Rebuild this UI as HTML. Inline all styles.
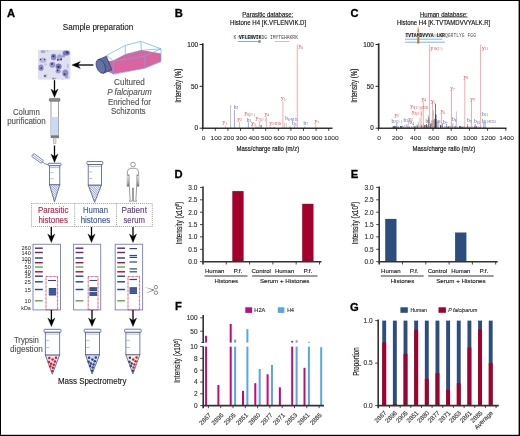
<!DOCTYPE html>
<html><head><meta charset="utf-8"><style>
html,body{margin:0;padding:0;background:#fff;}
svg{display:block;will-change:transform;}
svg{font-family:"Liberation Sans", sans-serif;}
</style></head><body>
<svg width="520" height="436" viewBox="0 0 520 436">
<rect x="0" y="0" width="520" height="436" fill="#fff"/>
<text x="7" y="16.9" font-size="11.2" fill="#000" font-weight="bold" stroke="#000" stroke-width="0.3">A</text><text x="62.8" y="29.7" font-size="8.7" fill="#222" stroke="#222" stroke-width="0.14" textLength="70.4" lengthAdjust="spacingAndGlyphs">Sample preparation</text><rect x="37.9" y="49.9" width="32.6" height="29.7" fill="#dfe1f0"/><clipPath id="mic"><rect x="37.9" y="49.9" width="32.6" height="29.7"/></clipPath><g clip-path="url(#mic)"><g><ellipse cx="43.0" cy="51.6" rx="2.6" ry="1.6" fill="#8c8cc8" fill-opacity="0.64"/><ellipse cx="47.5" cy="51.0" rx="1.2" ry="0.8" fill="#a0a0d4" fill-opacity="0.56"/><ellipse cx="53.6" cy="57.0" rx="2.7" ry="3.2" fill="#6a68b4" fill-opacity="0.76"/><ellipse cx="59.6" cy="57.6" rx="2.6" ry="3.3" fill="#8a88c4" fill-opacity="0.68"/><ellipse cx="66.2" cy="53.0" rx="3.6" ry="2.6" fill="#5856a4" fill-opacity="0.76"/><ellipse cx="63.5" cy="56.2" rx="1.6" ry="1.4" fill="#7a78bc" fill-opacity="0.64"/><ellipse cx="42.8" cy="60.2" rx="3.6" ry="2.6" fill="#a4a4d4" fill-opacity="0.68"/><ellipse cx="52.4" cy="64.8" rx="3.0" ry="3.0" fill="#7a78c0" fill-opacity="0.72"/><ellipse cx="58.6" cy="66.4" rx="3.0" ry="2.9" fill="#5e5caa" fill-opacity="0.76"/><ellipse cx="41.0" cy="67.8" rx="2.6" ry="3.2" fill="#6e6cb4" fill-opacity="0.72"/><ellipse cx="58.2" cy="71.2" rx="2.6" ry="2.2" fill="#7c7abe" fill-opacity="0.68"/><ellipse cx="65.4" cy="73.0" rx="3.0" ry="3.6" fill="#6c6ab2" fill-opacity="0.72"/><ellipse cx="66.8" cy="77.2" rx="1.8" ry="1.4" fill="#8a88c4" fill-opacity="0.64"/><ellipse cx="45.4" cy="75.8" rx="2.0" ry="2.0" fill="#b4b4dc" fill-opacity="0.56"/><ellipse cx="54.2" cy="78.6" rx="2.2" ry="1.2" fill="#9a98cc" fill-opacity="0.64"/><ellipse cx="67.8" cy="66.0" rx="1.2" ry="2.6" fill="#b0b0dc" fill-opacity="0.64"/><ellipse cx="45.6" cy="64.5" rx="1.6" ry="1.2" fill="#b8b8e0" fill-opacity="0.56"/><circle cx="53.4" cy="56.2" r="1.0" fill="#2d2b6a"/><circle cx="57.8" cy="59.8" r="0.9" fill="#262262"/><circle cx="61.2" cy="59.4" r="0.9" fill="#222060"/><circle cx="67.2" cy="52.4" r="1.2" fill="#3a3878"/><circle cx="40.6" cy="59.4" r="0.75" fill="#5a3038"/><circle cx="44.6" cy="59.4" r="0.75" fill="#5a3038"/><circle cx="52.0" cy="64.0" r="0.9" fill="#3a2a5a"/><circle cx="58.4" cy="66.8" r="1.1" fill="#2d2b6a"/><circle cx="57.6" cy="70.4" r="0.9" fill="#2d2b6a"/><circle cx="64.6" cy="74.2" r="1.0" fill="#3a3878"/><circle cx="45.0" cy="75.9" r="0.95" fill="#6a3a2a"/><circle cx="41.4" cy="68.2" r="0.9" fill="#3a3878"/><circle cx="53.2" cy="78.9" r="0.7" fill="#4a3a5a"/><circle cx="62.8" cy="80.0" r="0.6" fill="#3a3878"/></g></g><line x1="93.4" y1="65.0" x2="76.8" y2="65.0" stroke="#000" stroke-width="1.3"/><path d="M71.8,65.0 L80.39999999999999,61.4 L77.99999999999999,65.0 L80.39999999999999,68.6 Z" fill="#000" stroke="#000" stroke-width="0.3" stroke-linejoin="round"/><path d="M106.8,61.5 L113.2,60.4 L125.3,54.2 L141.4,50.1 L161,53.6 L161,61.6 L144.8,68.3 L113.2,74.0 L107.5,71.5 Z" fill="#da64a0"/><g fill="none" stroke="#6aaee8" stroke-width="0.7" stroke-linejoin="round"><path d="M106.4,55.5 L125.3,45.4 L140.8,41.4 L161,48.8 L161,61.6 L144.8,68.3 L113.2,74.3 L109.8,71"/><path d="M106.4,55.5 L111.5,59.2 L113.2,61.2 L113.2,74.3"/><path d="M125.3,45.4 L125.3,54.6"/><path d="M140.8,41.4 L141.4,50.4"/><path d="M125.3,54.6 L141.4,50.4 L161,48.8"/><path d="M113.2,61.2 L144.8,56.2 L161,48.8"/><path d="M144.8,56.2 L144.8,68.3"/></g><g transform="rotate(-22 104 65)"><rect x="100.5" y="57.8" width="9" height="14.6" fill="#5d6a9e" stroke="#27306a" stroke-width="0.6"/><ellipse cx="100.5" cy="65.1" rx="4.2" ry="7.3" fill="#6572a8" stroke="#27306a" stroke-width="0.6"/></g><text x="129.4" y="84.5" font-size="8.7" fill="#555" stroke="#555" stroke-width="0.14" text-anchor="middle" textLength="30.7" lengthAdjust="spacingAndGlyphs">Cultured</text><text x="129.4" y="94.5" font-size="8.7" fill="#555" stroke="#555" stroke-width="0.14" text-anchor="middle" font-style="italic" textLength="44.5" lengthAdjust="spacingAndGlyphs">P falciparum</text><text x="129.4" y="104.5" font-size="8.7" fill="#555" stroke="#555" stroke-width="0.14" text-anchor="middle" textLength="42.9" lengthAdjust="spacingAndGlyphs">Enriched for</text><text x="128.3" y="114.4" font-size="8.7" fill="#555" stroke="#555" stroke-width="0.14" text-anchor="middle" textLength="34.6" lengthAdjust="spacingAndGlyphs">Schizonts</text><line x1="54.5" y1="80.2" x2="54.5" y2="92.6" stroke="#000" stroke-width="1.3"/><path d="M54.5,97.6 L50.9,89.0 L54.5,91.4 L58.1,89.0 Z" fill="#000" stroke="#000" stroke-width="0.3" stroke-linejoin="round"/><rect x="49.3" y="98.4" width="10.7" height="2.9" rx="0.8" fill="#8a8a8a" stroke="#555" stroke-width="0.5"/><rect x="51" y="101.3" width="7.6" height="36.4" fill="#fff" stroke="#8a8a8a" stroke-width="0.8"/><rect x="51.4" y="117" width="6.8" height="18.3" fill="#c8daf4"/><rect x="51" y="135.3" width="7.6" height="2.6" fill="#777"/><rect x="53.2" y="137.9" width="2.8" height="5.6" fill="#ddd" stroke="#999" stroke-width="0.5"/><text x="26.4" y="114.9" font-size="8.7" fill="#555" stroke="#555" stroke-width="0.14" text-anchor="middle" textLength="26.9" lengthAdjust="spacingAndGlyphs">Column</text><text x="26.4" y="124.0" font-size="8.7" fill="#555" stroke="#555" stroke-width="0.14" text-anchor="middle" textLength="38.5" lengthAdjust="spacingAndGlyphs">purification</text><line x1="54.5" y1="145.5" x2="54.5" y2="157.6" stroke="#000" stroke-width="1.3"/><path d="M54.5,162.6 L50.9,154.0 L54.5,156.4 L58.1,154.0 Z" fill="#000" stroke="#000" stroke-width="0.3" stroke-linejoin="round"/><defs><pattern id="hatch" width="1.7" height="1.7" patternUnits="userSpaceOnUse" patternTransform="rotate(-45)"><rect width="1.7" height="1.7" fill="#fff"/><line x1="0" y1="0" x2="0" y2="1.7" stroke="#4a5a98" stroke-width="0.95"/></pattern></defs><rect x="48.2" y="163.3" width="12.899999999999999" height="2.5" rx="0.8" fill="#fff" stroke="#4a5a98" stroke-width="0.8"/><path d="M49.5,184.7 L54.5,201.8 L59.800000000000004,184.7 Z" fill="url(#hatch)" stroke="#4a5a98" stroke-width="0.8" stroke-linejoin="round"/><rect x="49.5" y="165.8" width="10.300000000000004" height="18.899999999999977" fill="#fff" stroke="#4a5a98" stroke-width="0.8"/><line x1="49.7" y1="167.60000000000002" x2="59.6" y2="167.60000000000002" stroke="#4a5a98" stroke-width="0.4"/><line x1="49.5" y1="172.6" x2="53.5" y2="172.6" stroke="#8a96c4" stroke-width="0.6"/><line x1="49.5" y1="178.7" x2="53.5" y2="178.7" stroke="#8a96c4" stroke-width="0.6"/><rect x="86.9" y="161.5" width="15.899999999999991" height="3.0999999999999943" rx="0.8" fill="#fff" stroke="#4a5a98" stroke-width="0.8"/><path d="M88.2,185.0 L94.6,202.3 L101.5,185.0 Z" fill="url(#hatch)" stroke="#4a5a98" stroke-width="0.8" stroke-linejoin="round"/><rect x="88.2" y="164.6" width="13.299999999999997" height="20.400000000000006" fill="#fff" stroke="#4a5a98" stroke-width="0.8"/><line x1="88.4" y1="166.4" x2="101.3" y2="166.4" stroke="#4a5a98" stroke-width="0.4"/><line x1="88.2" y1="171.9" x2="92.2" y2="171.9" stroke="#8a96c4" stroke-width="0.6"/><line x1="88.2" y1="178.5" x2="92.2" y2="178.5" stroke="#8a96c4" stroke-width="0.6"/><g transform="rotate(36 37.5 158.5)"><rect x="31.5" y="156.6" width="12" height="3.6" rx="0.6" fill="#fff" stroke="#4a5a98" stroke-width="0.7"/><line x1="32" y1="158.4" x2="43" y2="158.4" stroke="#4a5a98" stroke-width="0.5"/></g><path d="M42.5,162 Q44.5,164.5 48.2,164.6" fill="none" stroke="#4a5a98" stroke-width="0.7"/><defs><linearGradient id="arm" x1="0" y1="0" x2="0" y2="1"><stop offset="0" stop-color="#fff"/><stop offset="0.6" stop-color="#bbb"/><stop offset="1" stop-color="#444"/></linearGradient></defs><g fill="#fff" stroke="#3a3a3a" stroke-width="0.5"><circle cx="133" cy="164.5" r="2.3"/><path d="M130.8,168.3 L135.2,168.3 Q138.4,168.8 138.6,171.5 L138.8,186.3 L137.6,186.3 L137.2,174.5 L136.6,187 L135.9,199.8 L136.6,201.2 L133.6,201.2 L133.4,188 L132.6,188 L132.4,201.2 L129.4,201.2 L130.1,199.8 L129.4,187 L128.8,174.5 L128.4,186.3 L127.2,186.3 L127.4,171.5 Q127.6,168.8 130.8,168.3 Z"/></g><rect x="127.5" y="176" width="1.1" height="10.2" fill="url(#arm)"/><rect x="137.4" y="176" width="1.1" height="10.2" fill="url(#arm)"/><line x1="133" y1="188.5" x2="133" y2="200.8" stroke="#999" stroke-width="0.5"/><g fill="none" stroke="#777" stroke-width="0.8" stroke-dasharray="0.9 1.15"><rect x="31.5" y="203.5" width="120.8" height="23"/><line x1="74.7" y1="203.5" x2="74.7" y2="226.5"/><line x1="116.5" y1="203.5" x2="116.5" y2="226.5"/></g><text x="53.2" y="212.7" font-size="8.7" fill="#c4204c" stroke="#c4204c" stroke-width="0.14" text-anchor="middle" textLength="30.4" lengthAdjust="spacingAndGlyphs">Parasitic</text><text x="53.2" y="222.7" font-size="8.7" fill="#c4204c" stroke="#c4204c" stroke-width="0.14" text-anchor="middle" textLength="29.6" lengthAdjust="spacingAndGlyphs">histones</text><text x="95.5" y="212.7" font-size="8.7" fill="#3a5a9a" stroke="#3a5a9a" stroke-width="0.14" text-anchor="middle" textLength="25.1" lengthAdjust="spacingAndGlyphs">Human</text><text x="95.5" y="222.7" font-size="8.7" fill="#3a5a9a" stroke="#3a5a9a" stroke-width="0.14" text-anchor="middle" textLength="29.6" lengthAdjust="spacingAndGlyphs">histones</text><text x="134.2" y="212.7" font-size="8.7" fill="#6a3a8a" stroke="#6a3a8a" stroke-width="0.14" text-anchor="middle" textLength="25.4" lengthAdjust="spacingAndGlyphs">Patient</text><text x="134.2" y="222.7" font-size="8.7" fill="#6a3a8a" stroke="#6a3a8a" stroke-width="0.14" text-anchor="middle" textLength="21.4" lengthAdjust="spacingAndGlyphs">serum</text><line x1="51.3" y1="227" x2="51.3" y2="237.6" stroke="#000" stroke-width="1.3"/><path d="M51.3,242.6 L47.699999999999996,234.0 L51.3,236.4 L54.9,234.0 Z" fill="#000" stroke="#000" stroke-width="0.3" stroke-linejoin="round"/><line x1="91.5" y1="227" x2="91.5" y2="237.6" stroke="#000" stroke-width="1.3"/><path d="M91.5,242.6 L87.9,234.0 L91.5,236.4 L95.1,234.0 Z" fill="#000" stroke="#000" stroke-width="0.3" stroke-linejoin="round"/><line x1="133" y1="227" x2="133" y2="237.6" stroke="#000" stroke-width="1.3"/><path d="M133,242.6 L129.4,234.0 L133,236.4 L136.6,234.0 Z" fill="#000" stroke="#000" stroke-width="0.3" stroke-linejoin="round"/><rect x="33" y="244.3" width="27.5" height="65.6" fill="#fff" stroke="#7f8cc4" stroke-width="1.0"/><rect x="35" y="247.47" width="7.80" height="1.45" fill="#6a2a7a"/><rect x="35" y="251.78" width="7.80" height="1.45" fill="#6a2a7a"/><rect x="35" y="257.27" width="7.80" height="1.45" fill="#2a4a8a"/><rect x="35" y="261.97" width="7.80" height="1.45" fill="#b01040"/><rect x="35" y="266.27" width="7.80" height="1.45" fill="#60b040"/><rect x="35" y="271.07" width="7.80" height="1.45" fill="#b01040"/><rect x="35" y="275.47" width="7.80" height="1.45" fill="#2a4a8a"/><rect x="35" y="281.07" width="7.80" height="1.45" fill="#2a4a8a"/><rect x="35" y="288.77" width="7.80" height="1.45" fill="#2a4a8a"/><rect x="35" y="300.07" width="7.80" height="1.45" fill="#60b040"/><rect x="73.6" y="244.3" width="27.1" height="65.6" fill="#fff" stroke="#7f8cc4" stroke-width="1.0"/><rect x="75.6" y="247.47" width="7.80" height="1.45" fill="#6a2a7a"/><rect x="75.6" y="251.78" width="7.80" height="1.45" fill="#6a2a7a"/><rect x="75.6" y="257.27" width="7.80" height="1.45" fill="#2a4a8a"/><rect x="75.6" y="261.97" width="7.80" height="1.45" fill="#b01040"/><rect x="75.6" y="266.27" width="7.80" height="1.45" fill="#60b040"/><rect x="75.6" y="271.07" width="7.80" height="1.45" fill="#b01040"/><rect x="75.6" y="275.47" width="7.80" height="1.45" fill="#2a4a8a"/><rect x="75.6" y="281.07" width="7.80" height="1.45" fill="#2a4a8a"/><rect x="75.6" y="288.77" width="7.80" height="1.45" fill="#2a4a8a"/><rect x="75.6" y="300.07" width="7.80" height="1.45" fill="#60b040"/><rect x="115.2" y="244.3" width="27.4" height="65.6" fill="#fff" stroke="#7f8cc4" stroke-width="1.0"/><rect x="117.2" y="247.47" width="7.80" height="1.45" fill="#6a2a7a"/><rect x="117.2" y="251.78" width="7.80" height="1.45" fill="#6a2a7a"/><rect x="117.2" y="257.27" width="7.80" height="1.45" fill="#2a4a8a"/><rect x="117.2" y="261.97" width="7.80" height="1.45" fill="#b01040"/><rect x="117.2" y="266.27" width="7.80" height="1.45" fill="#60b040"/><rect x="117.2" y="271.07" width="7.80" height="1.45" fill="#b01040"/><rect x="117.2" y="275.47" width="7.80" height="1.45" fill="#2a4a8a"/><rect x="117.2" y="281.07" width="7.80" height="1.45" fill="#2a4a8a"/><rect x="117.2" y="288.77" width="7.80" height="1.45" fill="#2a4a8a"/><rect x="117.2" y="300.07" width="7.80" height="1.45" fill="#60b040"/><text transform="translate(30.8,249.8) scale(1,0.82)" text-anchor="end" font-size="5.6" fill="#222">260</text><text transform="translate(30.8,254.9) scale(1,0.82)" text-anchor="end" font-size="5.6" fill="#222">140</text><text transform="translate(30.8,260.5) scale(1,0.82)" text-anchor="end" font-size="5.6" fill="#222">100</text><text transform="translate(30.8,264.3) scale(1,0.82)" text-anchor="end" font-size="5.6" fill="#222">70</text><text transform="translate(30.8,268.6) scale(1,0.82)" text-anchor="end" font-size="5.6" fill="#222">50</text><text transform="translate(30.8,273.7) scale(1,0.82)" text-anchor="end" font-size="5.6" fill="#222">40</text><text transform="translate(30.8,278.3) scale(1,0.82)" text-anchor="end" font-size="5.6" fill="#222">35</text><text transform="translate(30.8,284.1) scale(1,0.82)" text-anchor="end" font-size="5.6" fill="#222">25</text><text transform="translate(30.8,291.7) scale(1,0.82)" text-anchor="end" font-size="5.6" fill="#222">15</text><text transform="translate(30.8,302.9) scale(1,0.82)" text-anchor="end" font-size="5.6" fill="#222">10</text><text transform="translate(30.8,309.9) scale(1,0.85)" text-anchor="end" font-size="5.4" fill="#222">kDa</text><rect x="48" y="279.95" width="8.00" height="1.1" fill="#2a4a8a"/><rect x="48.8" y="288" width="7.4" height="7.5" fill="#2a4a8a"/><g stroke="#7f95c8" stroke-width="0.45"><line x1="48.8" y1="289.9" x2="56.2" y2="289.9"/><line x1="48.8" y1="291.8" x2="56.2" y2="291.8"/><line x1="48.8" y1="293.7" x2="56.2" y2="293.7"/></g><rect x="89.5" y="279.95" width="7.50" height="1.1" fill="#2a4a8a"/><rect x="89.4" y="287.2" width="7.7" height="4.0" fill="#2a4a8a"/><rect x="89.4" y="292.1" width="7.7" height="3.8" fill="#2a4a8a"/><g stroke="#7f95c8" stroke-width="0.4"><line x1="89.4" y1="289.2" x2="97.1" y2="289.2"/><line x1="89.4" y1="294.0" x2="97.1" y2="294.0"/></g><rect x="129.5" y="248.00" width="7.50" height="1.2" fill="#2a4a8a"/><rect x="129.5" y="254.90" width="7.50" height="1.2" fill="#2a4a8a"/><rect x="129.5" y="256.80" width="7.50" height="1.2" fill="#2a4a8a"/><rect x="129.5" y="261.40" width="7.50" height="1.2" fill="#2a4a8a"/><rect x="129.5" y="268.30" width="7.50" height="1.2" fill="#2a4a8a"/><rect x="129.5" y="271.20" width="7.50" height="1.2" fill="#2a4a8a"/><rect x="129.5" y="278.90" width="7.50" height="1.2" fill="#2a4a8a"/><rect x="129.6" y="287.2" width="7.4" height="6.8" fill="#2a4a8a"/><g stroke="#7f95c8" stroke-width="0.45"><line x1="129.6" y1="289.0" x2="137" y2="289.0"/><line x1="129.6" y1="290.8" x2="137" y2="290.8"/><line x1="129.6" y1="292.6" x2="137" y2="292.6"/></g><rect x="46" y="276.6" width="11.6" height="33.3" fill="none" stroke="#d41a44" stroke-width="0.9" stroke-dasharray="0.8 0.55"/><rect x="88.2" y="276.6" width="9.8" height="33.3" fill="none" stroke="#d41a44" stroke-width="0.9" stroke-dasharray="0.8 0.55"/><rect x="128" y="276.6" width="11.6" height="33.3" fill="none" stroke="#d41a44" stroke-width="0.9" stroke-dasharray="0.8 0.55"/><g fill="#777"><path d="M144.4,287.0 L153.8,289.5 L153.6,290.6 Z"/><path d="M144.4,293.8 L153.8,289.5 L153.9,290.6 Z"/></g><g fill="none" stroke="#777" stroke-width="0.85"><circle cx="155.9" cy="287.2" r="1.75"/><circle cx="155.9" cy="292.7" r="1.75"/></g><line x1="51.4" y1="310" x2="51.4" y2="321.6" stroke="#000" stroke-width="1.3"/><path d="M51.4,326.6 L47.8,318.0 L51.4,320.4 L55.0,318.0 Z" fill="#000" stroke="#000" stroke-width="0.3" stroke-linejoin="round"/><line x1="92" y1="310" x2="92" y2="321.6" stroke="#000" stroke-width="1.3"/><path d="M92,326.6 L88.4,318.0 L92,320.4 L95.6,318.0 Z" fill="#000" stroke="#000" stroke-width="0.3" stroke-linejoin="round"/><line x1="133" y1="310" x2="133" y2="321.6" stroke="#000" stroke-width="1.3"/><path d="M133,326.6 L129.4,318.0 L133,320.4 L136.6,318.0 Z" fill="#000" stroke="#000" stroke-width="0.3" stroke-linejoin="round"/><rect x="44" y="329.3" width="17" height="3.0" rx="0.8" fill="#fff" stroke="#4a5a98" stroke-width="0.8"/><path d="M45.3,354.9 L52.3,374.2 L59.7,354.9 Z" fill="#f3dfe4" stroke="#4a5a98" stroke-width="0.8" stroke-linejoin="round"/><rect x="45.3" y="332.3" width="14.400000000000006" height="22.599999999999966" fill="#fff" stroke="#4a5a98" stroke-width="0.8"/><line x1="45.5" y1="334.1" x2="59.5" y2="334.1" stroke="#4a5a98" stroke-width="0.4"/><line x1="45.3" y1="340.4" x2="49.3" y2="340.4" stroke="#8a96c4" stroke-width="0.6"/><line x1="45.3" y1="347.7" x2="49.3" y2="347.7" stroke="#8a96c4" stroke-width="0.6"/><circle cx="49.3" cy="358.0" r="1.25" fill="#c8203a"/><circle cx="52.599999999999994" cy="359.59999999999997" r="1.25" fill="#c8203a"/><circle cx="56.0" cy="357.8" r="1.25" fill="#c8203a"/><circle cx="48.9" cy="362.0" r="1.25" fill="#c8203a"/><circle cx="55.0" cy="361.4" r="1.25" fill="#c8203a"/><circle cx="51.099999999999994" cy="363.8" r="1.25" fill="#c8203a"/><circle cx="53.8" cy="364.8" r="1.25" fill="#c8203a"/><circle cx="50.199999999999996" cy="366.3" r="1.25" fill="#c8203a"/><circle cx="52.9" cy="367.7" r="1.25" fill="#c8203a"/><circle cx="52.3" cy="370.9" r="1.25" fill="#c8203a"/><rect x="84.2" y="329.2" width="16.700000000000003" height="3.1000000000000227" rx="0.8" fill="#fff" stroke="#4a5a98" stroke-width="0.8"/><path d="M85.5,354.7 L92.1,374.0 L99.60000000000001,354.7 Z" fill="#d5daec" stroke="#4a5a98" stroke-width="0.8" stroke-linejoin="round"/><rect x="85.5" y="332.3" width="14.100000000000009" height="22.399999999999977" fill="#fff" stroke="#4a5a98" stroke-width="0.8"/><line x1="85.7" y1="334.1" x2="99.4" y2="334.1" stroke="#4a5a98" stroke-width="0.4"/><line x1="85.5" y1="340.4" x2="89.5" y2="340.4" stroke="#8a96c4" stroke-width="0.6"/><line x1="85.5" y1="347.5" x2="89.5" y2="347.5" stroke="#8a96c4" stroke-width="0.6"/><circle cx="89.1" cy="357.8" r="1.25" fill="#2a4585"/><circle cx="92.39999999999999" cy="359.4" r="1.25" fill="#2a4585"/><circle cx="95.8" cy="357.6" r="1.25" fill="#2a4585"/><circle cx="88.69999999999999" cy="361.8" r="1.25" fill="#2a4585"/><circle cx="94.8" cy="361.2" r="1.25" fill="#2a4585"/><circle cx="90.89999999999999" cy="363.6" r="1.25" fill="#2a4585"/><circle cx="93.6" cy="364.6" r="1.25" fill="#2a4585"/><circle cx="90.0" cy="366.1" r="1.25" fill="#2a4585"/><circle cx="92.69999999999999" cy="367.5" r="1.25" fill="#2a4585"/><circle cx="92.1" cy="370.7" r="1.25" fill="#2a4585"/><rect x="124.6" y="329.2" width="16.599999999999994" height="3.1000000000000227" rx="0.8" fill="#fff" stroke="#4a5a98" stroke-width="0.8"/><path d="M125.89999999999999,354.7 L132.9,374.0 L139.89999999999998,354.7 Z" fill="#fbf1d8" stroke="#4a5a98" stroke-width="0.8" stroke-linejoin="round"/><rect x="125.89999999999999" y="332.3" width="13.999999999999986" height="22.399999999999977" fill="#fff" stroke="#4a5a98" stroke-width="0.8"/><line x1="126.1" y1="334.1" x2="139.7" y2="334.1" stroke="#4a5a98" stroke-width="0.4"/><line x1="125.89999999999999" y1="340.4" x2="129.89999999999998" y2="340.4" stroke="#8a96c4" stroke-width="0.6"/><line x1="125.89999999999999" y1="347.5" x2="129.89999999999998" y2="347.5" stroke="#8a96c4" stroke-width="0.6"/><circle cx="129.9" cy="357.8" r="1.25" fill="#2a4585"/><circle cx="133.20000000000002" cy="359.4" r="1.25" fill="#c8203a"/><circle cx="136.6" cy="357.6" r="1.25" fill="#c8203a"/><circle cx="129.5" cy="361.8" r="1.25" fill="#2a4585"/><circle cx="135.6" cy="361.2" r="1.25" fill="#c8203a"/><circle cx="131.70000000000002" cy="363.6" r="1.25" fill="#2a4585"/><circle cx="134.4" cy="364.6" r="1.25" fill="#c8203a"/><circle cx="130.8" cy="366.1" r="1.25" fill="#2a4585"/><circle cx="133.5" cy="367.5" r="1.25" fill="#c8203a"/><circle cx="132.9" cy="370.7" r="1.25" fill="#2a4585"/><text x="26.4" y="342.5" font-size="8.7" fill="#555" stroke="#555" stroke-width="0.14" text-anchor="middle" textLength="25" lengthAdjust="spacingAndGlyphs">Trypsin</text><text x="26.4" y="351.9" font-size="8.7" fill="#555" stroke="#555" stroke-width="0.14" text-anchor="middle" textLength="32.7" lengthAdjust="spacingAndGlyphs">digestion</text><text x="57.9" y="384.4" font-size="8.7" fill="#222" stroke="#222" stroke-width="0.14" textLength="68.6" lengthAdjust="spacingAndGlyphs">Mass Spectrometry</text><text x="174.8" y="16.9" font-size="11.2" fill="#000" font-weight="bold" stroke="#000" stroke-width="0.3">B</text><text x="242.3" y="16.5" font-size="6.8" fill="#111" stroke="#111" stroke-width="0.14" textLength="51" lengthAdjust="spacingAndGlyphs">Parasitic database:</text><line x1="242.3" y1="17.4" x2="293.3" y2="17.4" stroke="#333" stroke-width="0.45"/><text x="230" y="25" font-size="6.4" fill="#111" stroke="#111" stroke-width="0.14" textLength="76.2" lengthAdjust="spacingAndGlyphs">Histone H4 [K.VFLENVIK.D]</text><rect x="237.6" y="35.2" width="22.4" height="3.6" fill="#d8d8d8"/><text x="233.4" y="38.9" font-size="4.7" font-family="Liberation Mono, monospace" fill="#444" xml:space="preserve" textLength="64.6" lengthAdjust="spacingAndGlyphs">K <tspan font-weight="bold" fill="#222">VFLENVIK</tspan>DG IMYTEHAKRK</text><line x1="238" y1="41.5" x2="259" y2="41.5" stroke="#5a9ae0" stroke-width="0.8"/><rect x="258.3" y="40.2" width="2.4" height="2.6" fill="#888"/><line x1="275" y1="41.5" x2="289.2" y2="41.5" stroke="#aaa" stroke-width="0.7"/><line x1="225.4" y1="128.2" x2="225.4" y2="125.7" stroke="#f29696" stroke-width="0.7"/><line x1="230.6" y1="128.2" x2="230.6" y2="105.2" stroke="#b8b8b8" stroke-width="0.9"/><line x1="234.4" y1="128.2" x2="234.4" y2="110.0" stroke="#7080e0" stroke-width="0.7"/><line x1="239.5" y1="128.2" x2="239.5" y2="122.1" stroke="#f29696" stroke-width="0.7"/><line x1="248.4" y1="128.2" x2="248.4" y2="122.1" stroke="#7080e0" stroke-width="0.7"/><line x1="252.1" y1="128.2" x2="252.1" y2="124.0" stroke="#f29696" stroke-width="0.7"/><line x1="259.4" y1="128.2" x2="259.4" y2="121.0" stroke="#f29696" stroke-width="0.7"/><line x1="261.1" y1="128.2" x2="261.1" y2="124.9" stroke="#333" stroke-width="0.8"/><line x1="266.4" y1="128.2" x2="266.4" y2="116.9" stroke="#f29696" stroke-width="0.7"/><line x1="270" y1="128.2" x2="270" y2="126.9" stroke="#333" stroke-width="0.6"/><line x1="274" y1="128.2" x2="274" y2="126.9" stroke="#333" stroke-width="0.6"/><line x1="282.9" y1="128.2" x2="282.9" y2="101.4" stroke="#f29696" stroke-width="0.8"/><line x1="284.6" y1="128.2" x2="284.6" y2="122.8" stroke="#b8b8b8" stroke-width="0.7"/><line x1="286.3" y1="128.2" x2="286.3" y2="123.2" stroke="#b8b8b8" stroke-width="0.7"/><line x1="294.4" y1="128.2" x2="294.4" y2="125.7" stroke="#7080e0" stroke-width="0.7"/><line x1="297.3" y1="128.2" x2="297.3" y2="44.5" stroke="#f29696" stroke-width="0.8"/><line x1="304.8" y1="128.2" x2="304.8" y2="126.5" stroke="#7080e0" stroke-width="0.7"/><line x1="315.7" y1="128.2" x2="315.7" y2="124.4" stroke="#f29696" stroke-width="0.7"/><line x1="256" y1="128.2" x2="256" y2="126.5" stroke="#333" stroke-width="0.6"/><line x1="258" y1="128.2" x2="258" y2="126.9" stroke="#333" stroke-width="0.6"/><line x1="290" y1="128.2" x2="290" y2="126.5" stroke="#333" stroke-width="0.6"/><line x1="202.8" y1="43.3" x2="202.8" y2="128.79999999999998" stroke="#333" stroke-width="1.7"/><line x1="202.20000000000002" y1="128.2" x2="332.5" y2="128.2" stroke="#333" stroke-width="1.6"/><line x1="199.60000000000002" y1="128.2" x2="202.8" y2="128.2" stroke="#111" stroke-width="0.9"/><text x="198.0" y="130.4" font-size="6.4" fill="#222" stroke="#222" stroke-width="0.14" text-anchor="end">0</text><line x1="199.60000000000002" y1="86.3" x2="202.8" y2="86.3" stroke="#111" stroke-width="0.9"/><text x="198.0" y="88.5" font-size="6.4" fill="#222" stroke="#222" stroke-width="0.14" text-anchor="end">50</text><line x1="199.60000000000002" y1="44.5" x2="202.8" y2="44.5" stroke="#111" stroke-width="0.9"/><text x="198.0" y="46.7" font-size="6.4" fill="#222" stroke="#222" stroke-width="0.14" text-anchor="end">100</text><line x1="202.7" y1="128.2" x2="202.7" y2="130.79999999999998" stroke="#111" stroke-width="0.8"/><text transform="translate(203.5,139.8) scale(1,0.82)" text-anchor="middle" font-size="6.6" fill="#222" stroke="#222" stroke-width="0.06">0</text><line x1="215.3" y1="128.2" x2="215.3" y2="130.79999999999998" stroke="#111" stroke-width="0.8"/><text transform="translate(216.1,139.8) scale(1,0.82)" text-anchor="middle" font-size="6.6" fill="#222" stroke="#222" stroke-width="0.06">100</text><line x1="227.9" y1="128.2" x2="227.9" y2="130.79999999999998" stroke="#111" stroke-width="0.8"/><text transform="translate(228.7,139.8) scale(1,0.82)" text-anchor="middle" font-size="6.6" fill="#222" stroke="#222" stroke-width="0.06">200</text><line x1="240.5" y1="128.2" x2="240.5" y2="130.79999999999998" stroke="#111" stroke-width="0.8"/><text transform="translate(241.3,139.8) scale(1,0.82)" text-anchor="middle" font-size="6.6" fill="#222" stroke="#222" stroke-width="0.06">300</text><line x1="253.1" y1="128.2" x2="253.1" y2="130.79999999999998" stroke="#111" stroke-width="0.8"/><text transform="translate(253.9,139.8) scale(1,0.82)" text-anchor="middle" font-size="6.6" fill="#222" stroke="#222" stroke-width="0.06">400</text><line x1="265.7" y1="128.2" x2="265.7" y2="130.79999999999998" stroke="#111" stroke-width="0.8"/><text transform="translate(266.5,139.8) scale(1,0.82)" text-anchor="middle" font-size="6.6" fill="#222" stroke="#222" stroke-width="0.06">500</text><line x1="278.3" y1="128.2" x2="278.3" y2="130.79999999999998" stroke="#111" stroke-width="0.8"/><text transform="translate(279.1,139.8) scale(1,0.82)" text-anchor="middle" font-size="6.6" fill="#222" stroke="#222" stroke-width="0.06">600</text><line x1="290.9" y1="128.2" x2="290.9" y2="130.79999999999998" stroke="#111" stroke-width="0.8"/><text transform="translate(291.7,139.8) scale(1,0.82)" text-anchor="middle" font-size="6.6" fill="#222" stroke="#222" stroke-width="0.06">700</text><line x1="303.5" y1="128.2" x2="303.5" y2="130.79999999999998" stroke="#111" stroke-width="0.8"/><text transform="translate(304.3,139.8) scale(1,0.82)" text-anchor="middle" font-size="6.6" fill="#222" stroke="#222" stroke-width="0.06">800</text><line x1="316.1" y1="128.2" x2="316.1" y2="130.79999999999998" stroke="#111" stroke-width="0.8"/><text transform="translate(316.9,139.8) scale(1,0.82)" text-anchor="middle" font-size="6.6" fill="#222" stroke="#222" stroke-width="0.06">900</text><line x1="328.7" y1="128.2" x2="328.7" y2="130.79999999999998" stroke="#111" stroke-width="0.8"/><text transform="translate(331.3,139.8) scale(1,0.82)" text-anchor="middle" font-size="6.6" fill="#222" stroke="#222" stroke-width="0.06">1000</text><text x="222.6" y="124.2" font-size="5.4" fill="#d84040" font-family="Liberation Serif, serif">y<tspan font-size="3.4" dy="0.8">1</tspan></text><text x="233.8" y="108.6" font-size="5.4" fill="#4a62b0" font-family="Liberation Serif, serif">b<tspan font-size="3.4" dy="0.8">2</tspan></text><text x="237.3" y="120.6" font-size="5.4" fill="#d84040" font-family="Liberation Serif, serif">y<tspan font-size="3.4" dy="0.8">2</tspan></text><text x="244.5" y="115.3" font-size="5.4" fill="#d84040" font-family="Liberation Serif, serif">y<tspan font-size="3.4" dy="0.8">8(2+)</tspan></text><text x="246.8" y="121.5" font-size="5.4" fill="#4a62b0" font-family="Liberation Serif, serif">b<tspan font-size="3.4" dy="0.8">3</tspan></text><text x="251.3" y="125.2" font-size="5.4" fill="#d84040" font-family="Liberation Serif, serif">y<tspan font-size="3.4" dy="0.8">3</tspan></text><text x="255.5" y="120.2" font-size="5.4" fill="#d84040" font-family="Liberation Serif, serif">y<tspan font-size="3.4" dy="0.8">7(2+)</tspan></text><text x="264.6" y="115.6" font-size="5.4" fill="#d84040" font-family="Liberation Serif, serif">y<tspan font-size="3.4" dy="0.8">4</tspan></text><text x="269.2" y="124.5" font-size="5.4" fill="#d84040" font-family="Liberation Serif, serif">y<tspan font-size="3.4" dy="0.8">5-H2O</tspan></text><text x="281" y="100.2" font-size="5.4" fill="#d84040" font-family="Liberation Serif, serif">y<tspan font-size="3.4" dy="0.8">5</tspan></text><text x="285.3" y="120.4" font-size="5.4" fill="#4a62b0" font-family="Liberation Serif, serif">b<tspan font-size="3.4" dy="0.8">6-NH3</tspan></text><text x="292" y="124.8" font-size="5.4" fill="#4a62b0" font-family="Liberation Serif, serif">b<tspan font-size="3.4" dy="0.8">6</tspan></text><text x="298.5" y="48" font-size="5.4" fill="#d84040" font-family="Liberation Serif, serif">y<tspan font-size="3.4" dy="0.8">6</tspan></text><text x="303.5" y="124.6" font-size="5.4" fill="#4a62b0" font-family="Liberation Serif, serif">b<tspan font-size="3.4" dy="0.8">7</tspan></text><text x="314.5" y="123.3" font-size="5.4" fill="#d84040" font-family="Liberation Serif, serif">y<tspan font-size="3.4" dy="0.8">7</tspan></text><text transform="translate(181.4,85.7) rotate(-90)" text-anchor="middle" font-size="8.2" fill="#222" stroke="#222" stroke-width="0.16" textLength="34" lengthAdjust="spacingAndGlyphs">Intensity (%)</text><text x="236.5" y="150.8" font-size="8" fill="#222" stroke="#222" textLength="62.7" lengthAdjust="spacingAndGlyphs" stroke-width="0.22">Mass/charge ratio (m/z)</text><text x="350.5" y="16.9" font-size="11.2" fill="#000" font-weight="bold" stroke="#000" stroke-width="0.3">C</text><text x="420" y="16.5" font-size="6.8" fill="#111" stroke="#111" stroke-width="0.14" textLength="47.7" lengthAdjust="spacingAndGlyphs">Human database:</text><line x1="420" y1="17.4" x2="467.7" y2="17.4" stroke="#333" stroke-width="0.45"/><text x="396.9" y="25" font-size="6.4" fill="#111" stroke="#111" stroke-width="0.14" textLength="93.3" lengthAdjust="spacingAndGlyphs">Histone H4 [K.TVTAMDVVYALK.R]</text><rect x="405" y="33.8" width="39.8" height="3.6" fill="#d8d8d8"/><line x1="405" y1="39.2" x2="442.3" y2="39.2" stroke="#7ab4ea" stroke-width="1"/><line x1="405" y1="42.2" x2="445" y2="42.2" stroke="#7ab4ea" stroke-width="1"/><rect x="417.4" y="29.2" width="1.8" height="3.4" fill="#d98a1a"/><rect x="417.6" y="27.6" width="1.4" height="0.8" fill="#888"/><rect x="417.3" y="37.0" width="2" height="6.6" fill="#c07818"/><text x="405.4" y="37.4" font-size="4.7" font-family="Liberation Mono, monospace" fill="#555" xml:space="preserve" textLength="70.6" lengthAdjust="spacingAndGlyphs"><tspan font-weight="bold" fill="#222">TVTAMDVVYA LKR</tspan>QGRTLYG FGG</text><line x1="414.4" y1="128.2" x2="414.4" y2="126.6" stroke="#222" stroke-width="0.5"/><line x1="448.7" y1="128.2" x2="448.7" y2="126.4" stroke="#222" stroke-width="0.5"/><line x1="393.3" y1="128.2" x2="393.3" y2="126.0" stroke="#222" stroke-width="0.5"/><line x1="414.0" y1="128.2" x2="414.0" y2="125.7" stroke="#222" stroke-width="0.5"/><line x1="470.5" y1="128.2" x2="470.5" y2="126.8" stroke="#222" stroke-width="0.5"/><line x1="406.2" y1="128.2" x2="406.2" y2="126.4" stroke="#999" stroke-width="0.5"/><line x1="441.1" y1="128.2" x2="441.1" y2="125.1" stroke="#222" stroke-width="0.5"/><line x1="463.1" y1="128.2" x2="463.1" y2="126.5" stroke="#222" stroke-width="0.5"/><line x1="395.0" y1="128.2" x2="395.0" y2="125.9" stroke="#222" stroke-width="0.5"/><line x1="459.4" y1="128.2" x2="459.4" y2="125.9" stroke="#999" stroke-width="0.5"/><line x1="478.4" y1="128.2" x2="478.4" y2="126.9" stroke="#999" stroke-width="0.5"/><line x1="433.7" y1="128.2" x2="433.7" y2="120.4" stroke="#222" stroke-width="0.5"/><line x1="404.8" y1="128.2" x2="404.8" y2="127.4" stroke="#999" stroke-width="0.5"/><line x1="432.9" y1="128.2" x2="432.9" y2="126.4" stroke="#222" stroke-width="0.5"/><line x1="428.2" y1="128.2" x2="428.2" y2="125.4" stroke="#222" stroke-width="0.5"/><line x1="476.8" y1="128.2" x2="476.8" y2="126.4" stroke="#999" stroke-width="0.5"/><line x1="472.3" y1="128.2" x2="472.3" y2="125.7" stroke="#999" stroke-width="0.5"/><line x1="407.3" y1="128.2" x2="407.3" y2="125.9" stroke="#999" stroke-width="0.5"/><line x1="476.8" y1="128.2" x2="476.8" y2="126.6" stroke="#999" stroke-width="0.5"/><line x1="411.8" y1="128.2" x2="411.8" y2="126.0" stroke="#222" stroke-width="0.5"/><line x1="418.8" y1="128.2" x2="418.8" y2="124.5" stroke="#999" stroke-width="0.5"/><line x1="400.3" y1="128.2" x2="400.3" y2="126.1" stroke="#222" stroke-width="0.5"/><line x1="406.2" y1="128.2" x2="406.2" y2="127.2" stroke="#999" stroke-width="0.5"/><line x1="473.9" y1="128.2" x2="473.9" y2="127.7" stroke="#222" stroke-width="0.5"/><line x1="396.3" y1="128.2" x2="396.3" y2="126.3" stroke="#222" stroke-width="0.5"/><line x1="474.6" y1="128.2" x2="474.6" y2="125.7" stroke="#222" stroke-width="0.5"/><line x1="485.6" y1="128.2" x2="485.6" y2="127.1" stroke="#222" stroke-width="0.5"/><line x1="448.3" y1="128.2" x2="448.3" y2="127.7" stroke="#222" stroke-width="0.5"/><line x1="430.3" y1="128.2" x2="430.3" y2="126.9" stroke="#222" stroke-width="0.5"/><line x1="473.4" y1="128.2" x2="473.4" y2="127.1" stroke="#999" stroke-width="0.5"/><line x1="476.1" y1="128.2" x2="476.1" y2="127.0" stroke="#222" stroke-width="0.5"/><line x1="440.8" y1="128.2" x2="440.8" y2="125.4" stroke="#222" stroke-width="0.5"/><line x1="450.2" y1="128.2" x2="450.2" y2="125.8" stroke="#222" stroke-width="0.5"/><line x1="432.5" y1="128.2" x2="432.5" y2="126.5" stroke="#222" stroke-width="0.5"/><line x1="483.7" y1="128.2" x2="483.7" y2="126.7" stroke="#222" stroke-width="0.5"/><line x1="393.1" y1="128.2" x2="393.1" y2="126.9" stroke="#222" stroke-width="0.5"/><line x1="393.9" y1="128.2" x2="393.9" y2="126.5" stroke="#222" stroke-width="0.5"/><line x1="397.7" y1="128.2" x2="397.7" y2="126.4" stroke="#222" stroke-width="0.5"/><line x1="455.7" y1="128.2" x2="455.7" y2="127.0" stroke="#999" stroke-width="0.5"/><line x1="461.2" y1="128.2" x2="461.2" y2="127.7" stroke="#222" stroke-width="0.5"/><line x1="455.4" y1="128.2" x2="455.4" y2="125.8" stroke="#222" stroke-width="0.5"/><line x1="434.8" y1="128.2" x2="434.8" y2="126.3" stroke="#222" stroke-width="0.5"/><line x1="421.4" y1="128.2" x2="421.4" y2="125.4" stroke="#222" stroke-width="0.5"/><line x1="427.4" y1="128.2" x2="427.4" y2="127.3" stroke="#222" stroke-width="0.5"/><line x1="461.0" y1="128.2" x2="461.0" y2="127.1" stroke="#222" stroke-width="0.5"/><line x1="467.4" y1="128.2" x2="467.4" y2="127.3" stroke="#222" stroke-width="0.5"/><line x1="432.8" y1="128.2" x2="432.8" y2="127.0" stroke="#222" stroke-width="0.5"/><line x1="423.3" y1="128.2" x2="423.3" y2="122.7" stroke="#999" stroke-width="0.5"/><line x1="407.9" y1="128.2" x2="407.9" y2="127.1" stroke="#999" stroke-width="0.5"/><line x1="475.0" y1="128.2" x2="475.0" y2="126.9" stroke="#222" stroke-width="0.5"/><line x1="403.4" y1="128.2" x2="403.4" y2="126.7" stroke="#222" stroke-width="0.5"/><line x1="467.7" y1="128.2" x2="467.7" y2="126.0" stroke="#222" stroke-width="0.5"/><line x1="418.2" y1="128.2" x2="418.2" y2="121.6" stroke="#999" stroke-width="0.5"/><line x1="424.4" y1="128.2" x2="424.4" y2="126.4" stroke="#999" stroke-width="0.5"/><line x1="417.5" y1="128.2" x2="417.5" y2="125.9" stroke="#222" stroke-width="0.5"/><line x1="430.4" y1="128.2" x2="430.4" y2="124.1" stroke="#222" stroke-width="0.5"/><line x1="480.5" y1="128.2" x2="480.5" y2="125.9" stroke="#999" stroke-width="0.5"/><line x1="432.8" y1="128.2" x2="432.8" y2="120.2" stroke="#222" stroke-width="0.5"/><line x1="461.9" y1="128.2" x2="461.9" y2="126.0" stroke="#999" stroke-width="0.5"/><line x1="440.7" y1="128.2" x2="440.7" y2="126.2" stroke="#222" stroke-width="0.5"/><line x1="398.4" y1="128.2" x2="398.4" y2="126.5" stroke="#222" stroke-width="0.5"/><line x1="468.0" y1="128.2" x2="468.0" y2="127.7" stroke="#999" stroke-width="0.5"/><line x1="457.1" y1="128.2" x2="457.1" y2="125.9" stroke="#999" stroke-width="0.5"/><line x1="476.4" y1="128.2" x2="476.4" y2="126.6" stroke="#222" stroke-width="0.5"/><line x1="461.9" y1="128.2" x2="461.9" y2="127.4" stroke="#222" stroke-width="0.5"/><line x1="454.2" y1="128.2" x2="454.2" y2="126.7" stroke="#222" stroke-width="0.5"/><line x1="480.1" y1="128.2" x2="480.1" y2="126.5" stroke="#222" stroke-width="0.5"/><line x1="415.7" y1="128.2" x2="415.7" y2="125.9" stroke="#222" stroke-width="0.5"/><line x1="465.4" y1="128.2" x2="465.4" y2="127.0" stroke="#222" stroke-width="0.5"/><line x1="442.2" y1="128.2" x2="442.2" y2="124.0" stroke="#999" stroke-width="0.5"/><line x1="478.4" y1="128.2" x2="478.4" y2="126.1" stroke="#999" stroke-width="0.5"/><line x1="392.8" y1="128.2" x2="392.8" y2="126.4" stroke="#999" stroke-width="0.5"/><line x1="396.7" y1="128.2" x2="396.7" y2="127.2" stroke="#222" stroke-width="0.5"/><line x1="441.5" y1="128.2" x2="441.5" y2="125.8" stroke="#999" stroke-width="0.5"/><line x1="392.2" y1="128.2" x2="392.2" y2="127.7" stroke="#222" stroke-width="0.5"/><line x1="403.7" y1="128.2" x2="403.7" y2="127.6" stroke="#999" stroke-width="0.5"/><line x1="472.1" y1="128.2" x2="472.1" y2="127.6" stroke="#222" stroke-width="0.5"/><line x1="421.7" y1="128.2" x2="421.7" y2="126.2" stroke="#222" stroke-width="0.5"/><line x1="447.0" y1="128.2" x2="447.0" y2="127.0" stroke="#222" stroke-width="0.5"/><line x1="422.9" y1="128.2" x2="422.9" y2="125.5" stroke="#999" stroke-width="0.5"/><line x1="427.7" y1="128.2" x2="427.7" y2="126.8" stroke="#222" stroke-width="0.5"/><line x1="448.7" y1="128.2" x2="448.7" y2="126.1" stroke="#222" stroke-width="0.5"/><line x1="467.1" y1="128.2" x2="467.1" y2="126.4" stroke="#222" stroke-width="0.5"/><line x1="427.0" y1="128.2" x2="427.0" y2="125.0" stroke="#222" stroke-width="0.5"/><line x1="457.1" y1="128.2" x2="457.1" y2="126.8" stroke="#222" stroke-width="0.5"/><line x1="442.3" y1="128.2" x2="442.3" y2="127.1" stroke="#222" stroke-width="0.5"/><line x1="432.0" y1="128.2" x2="432.0" y2="120.2" stroke="#222" stroke-width="0.5"/><line x1="476.2" y1="128.2" x2="476.2" y2="126.1" stroke="#222" stroke-width="0.5"/><line x1="435.6" y1="128.2" x2="435.6" y2="124.6" stroke="#999" stroke-width="0.5"/><line x1="475.2" y1="128.2" x2="475.2" y2="126.1" stroke="#999" stroke-width="0.5"/><line x1="460.8" y1="128.2" x2="460.8" y2="126.6" stroke="#222" stroke-width="0.5"/><line x1="447.1" y1="128.2" x2="447.1" y2="127.8" stroke="#222" stroke-width="0.5"/><line x1="464.6" y1="128.2" x2="464.6" y2="127.7" stroke="#222" stroke-width="0.5"/><line x1="401.4" y1="128.2" x2="401.4" y2="125.9" stroke="#222" stroke-width="0.5"/><line x1="394.3" y1="128.2" x2="394.3" y2="126.0" stroke="#222" stroke-width="0.5"/><line x1="471.2" y1="128.2" x2="471.2" y2="126.4" stroke="#999" stroke-width="0.5"/><line x1="481.3" y1="128.2" x2="481.3" y2="126.6" stroke="#999" stroke-width="0.5"/><line x1="395.4" y1="128.2" x2="395.4" y2="126.2" stroke="#222" stroke-width="0.5"/><line x1="459.1" y1="128.2" x2="459.1" y2="127.5" stroke="#999" stroke-width="0.5"/><line x1="479.6" y1="128.2" x2="479.6" y2="127.6" stroke="#222" stroke-width="0.5"/><line x1="444.9" y1="128.2" x2="444.9" y2="126.0" stroke="#222" stroke-width="0.5"/><line x1="408.9" y1="128.2" x2="408.9" y2="127.3" stroke="#222" stroke-width="0.5"/><line x1="462.7" y1="128.2" x2="462.7" y2="126.9" stroke="#222" stroke-width="0.5"/><line x1="429.2" y1="128.2" x2="429.2" y2="125.9" stroke="#222" stroke-width="0.5"/><line x1="438.9" y1="128.2" x2="438.9" y2="122.8" stroke="#999" stroke-width="0.5"/><line x1="407.1" y1="128.2" x2="407.1" y2="126.4" stroke="#999" stroke-width="0.5"/><line x1="455.2" y1="128.2" x2="455.2" y2="126.7" stroke="#222" stroke-width="0.5"/><line x1="452.3" y1="128.2" x2="452.3" y2="125.9" stroke="#222" stroke-width="0.5"/><line x1="401.0" y1="128.2" x2="401.0" y2="126.2" stroke="#999" stroke-width="0.5"/><line x1="440.5" y1="128.2" x2="440.5" y2="124.9" stroke="#222" stroke-width="0.5"/><line x1="417.1" y1="128.2" x2="417.1" y2="125.4" stroke="#222" stroke-width="0.5"/><line x1="413.8" y1="128.2" x2="413.8" y2="126.4" stroke="#999" stroke-width="0.5"/><line x1="419.8" y1="128.2" x2="419.8" y2="125.9" stroke="#999" stroke-width="0.5"/><line x1="446.8" y1="128.2" x2="446.8" y2="127.2" stroke="#222" stroke-width="0.5"/><line x1="394.2" y1="128.2" x2="394.2" y2="126.8" stroke="#222" stroke-width="0.5"/><line x1="408.2" y1="128.2" x2="408.2" y2="127.0" stroke="#222" stroke-width="0.5"/><line x1="464.6" y1="128.2" x2="464.6" y2="127.4" stroke="#999" stroke-width="0.5"/><line x1="437.0" y1="128.2" x2="437.0" y2="125.8" stroke="#999" stroke-width="0.5"/><line x1="469.1" y1="128.2" x2="469.1" y2="126.6" stroke="#222" stroke-width="0.5"/><line x1="459.6" y1="128.2" x2="459.6" y2="126.0" stroke="#222" stroke-width="0.5"/><line x1="460.8" y1="128.2" x2="460.8" y2="125.8" stroke="#222" stroke-width="0.5"/><line x1="413.6" y1="128.2" x2="413.6" y2="127.3" stroke="#999" stroke-width="0.5"/><line x1="455.4" y1="128.2" x2="455.4" y2="125.8" stroke="#999" stroke-width="0.5"/><line x1="414.7" y1="128.2" x2="414.7" y2="127.4" stroke="#222" stroke-width="0.5"/><line x1="409.6" y1="128.2" x2="409.6" y2="126.3" stroke="#999" stroke-width="0.5"/><line x1="476.4" y1="128.2" x2="476.4" y2="127.3" stroke="#999" stroke-width="0.5"/><line x1="421.4" y1="128.2" x2="421.4" y2="124.9" stroke="#222" stroke-width="0.5"/><line x1="400.7" y1="128.2" x2="400.7" y2="126.0" stroke="#222" stroke-width="0.5"/><line x1="425.5" y1="128.2" x2="425.5" y2="125.1" stroke="#222" stroke-width="0.5"/><line x1="423.4" y1="128.2" x2="423.4" y2="125.8" stroke="#222" stroke-width="0.5"/><line x1="446.9" y1="128.2" x2="446.9" y2="125.8" stroke="#222" stroke-width="0.5"/><line x1="443.1" y1="128.2" x2="443.1" y2="126.4" stroke="#999" stroke-width="0.5"/><line x1="402.6" y1="128.2" x2="402.6" y2="125.9" stroke="#999" stroke-width="0.5"/><line x1="401.1" y1="128.2" x2="401.1" y2="125.8" stroke="#222" stroke-width="0.5"/><line x1="464.4" y1="128.2" x2="464.4" y2="126.2" stroke="#222" stroke-width="0.5"/><line x1="455.4" y1="128.2" x2="455.4" y2="126.4" stroke="#999" stroke-width="0.5"/><line x1="416.9" y1="128.2" x2="416.9" y2="124.2" stroke="#999" stroke-width="0.5"/><line x1="442.3" y1="128.2" x2="442.3" y2="125.7" stroke="#222" stroke-width="0.5"/><line x1="459.4" y1="128.2" x2="459.4" y2="126.4" stroke="#222" stroke-width="0.5"/><line x1="409.1" y1="128.2" x2="409.1" y2="126.4" stroke="#222" stroke-width="0.5"/><line x1="396.7" y1="128.2" x2="396.7" y2="123.2" stroke="#7080e0" stroke-width="0.7"/><line x1="402.5" y1="128.2" x2="402.5" y2="125.7" stroke="#7080e0" stroke-width="0.6"/><line x1="404.8" y1="128.2" x2="404.8" y2="124.9" stroke="#7080e0" stroke-width="0.6"/><line x1="406.8" y1="128.2" x2="406.8" y2="124.0" stroke="#7080e0" stroke-width="0.6"/><line x1="408.3" y1="128.2" x2="408.3" y2="119.8" stroke="#f29696" stroke-width="0.7"/><line x1="420.0" y1="128.2" x2="420.0" y2="118.2" stroke="#b8b8b8" stroke-width="0.8"/><line x1="421.2" y1="128.2" x2="421.2" y2="108.1" stroke="#f29696" stroke-width="0.6"/><line x1="424.5" y1="128.2" x2="424.5" y2="124.9" stroke="#222" stroke-width="0.6"/><line x1="423.3" y1="128.2" x2="423.3" y2="101.4" stroke="#f29696" stroke-width="0.8"/><line x1="428.3" y1="128.2" x2="428.3" y2="115.0" stroke="#b8b8b8" stroke-width="0.8"/><line x1="428.9" y1="128.2" x2="428.9" y2="117.3" stroke="#222" stroke-width="0.6"/><line x1="429.6" y1="128.2" x2="429.6" y2="44.5" stroke="#f29696" stroke-width="0.8"/><line x1="432.5" y1="128.2" x2="432.5" y2="101.4" stroke="#f29696" stroke-width="0.8"/><line x1="433.5" y1="128.2" x2="433.5" y2="110.6" stroke="#b8b8b8" stroke-width="0.8"/><line x1="435.5" y1="128.2" x2="435.5" y2="103.9" stroke="#555" stroke-width="0.8"/><line x1="435.9" y1="128.2" x2="435.9" y2="114.4" stroke="#111" stroke-width="0.8"/><line x1="434.9" y1="128.2" x2="434.9" y2="119.0" stroke="#111" stroke-width="0.7"/><line x1="436.8" y1="128.2" x2="436.8" y2="121.5" stroke="#222" stroke-width="0.6"/><line x1="431" y1="128.2" x2="431" y2="123.2" stroke="#222" stroke-width="0.6"/><line x1="426.5" y1="128.2" x2="426.5" y2="124.0" stroke="#222" stroke-width="0.6"/><line x1="441.6" y1="128.2" x2="441.6" y2="114.0" stroke="#f29696" stroke-width="0.8"/><line x1="451.5" y1="128.2" x2="451.5" y2="90.5" stroke="#f29696" stroke-width="0.8"/><line x1="452.8" y1="128.2" x2="452.8" y2="123.2" stroke="#7080e0" stroke-width="0.6"/><line x1="456.4" y1="128.2" x2="456.4" y2="111.5" stroke="#b8b8b8" stroke-width="0.8"/><line x1="464.8" y1="128.2" x2="464.8" y2="79.2" stroke="#f29696" stroke-width="0.8"/><line x1="467.5" y1="128.2" x2="467.5" y2="124.0" stroke="#7080e0" stroke-width="0.6"/><line x1="471.5" y1="128.2" x2="471.5" y2="101.4" stroke="#f29696" stroke-width="0.8"/><line x1="475.3" y1="128.2" x2="475.3" y2="124.0" stroke="#7080e0" stroke-width="0.6"/><line x1="480.6" y1="128.2" x2="480.6" y2="44.5" stroke="#f29696" stroke-width="0.8"/><line x1="483.8" y1="128.2" x2="483.8" y2="121.5" stroke="#7080e0" stroke-width="0.7"/><line x1="485.2" y1="128.2" x2="485.2" y2="122.3" stroke="#7080e0" stroke-width="0.7"/><line x1="442.5" y1="128.2" x2="442.5" y2="123.2" stroke="#7080e0" stroke-width="0.6"/><line x1="446.5" y1="128.2" x2="446.5" y2="124.0" stroke="#7080e0" stroke-width="0.6"/><line x1="438" y1="128.2" x2="438" y2="120.7" stroke="#7080e0" stroke-width="0.6"/><line x1="378.7" y1="43.3" x2="378.7" y2="128.79999999999998" stroke="#333" stroke-width="1.7"/><line x1="378.09999999999997" y1="128.2" x2="506.5" y2="128.2" stroke="#333" stroke-width="1.6"/><line x1="375.5" y1="128.2" x2="378.7" y2="128.2" stroke="#111" stroke-width="0.9"/><text x="373.9" y="130.4" font-size="6.4" fill="#222" stroke="#222" stroke-width="0.14" text-anchor="end">0</text><line x1="375.5" y1="86.3" x2="378.7" y2="86.3" stroke="#111" stroke-width="0.9"/><text x="373.9" y="88.5" font-size="6.4" fill="#222" stroke="#222" stroke-width="0.14" text-anchor="end">50</text><line x1="375.5" y1="44.5" x2="378.7" y2="44.5" stroke="#111" stroke-width="0.9"/><text x="373.9" y="46.7" font-size="6.4" fill="#222" stroke="#222" stroke-width="0.14" text-anchor="end">100</text><line x1="378.4" y1="128.2" x2="378.4" y2="130.79999999999998" stroke="#111" stroke-width="0.8"/><text transform="translate(379.2,139.8) scale(1,0.82)" text-anchor="middle" font-size="6.6" fill="#222" stroke="#222" stroke-width="0.06">0</text><line x1="396.6" y1="128.2" x2="396.6" y2="130.79999999999998" stroke="#111" stroke-width="0.8"/><text transform="translate(397.4,139.8) scale(1,0.82)" text-anchor="middle" font-size="6.6" fill="#222" stroke="#222" stroke-width="0.06">200</text><line x1="414.8" y1="128.2" x2="414.8" y2="130.79999999999998" stroke="#111" stroke-width="0.8"/><text transform="translate(415.6,139.8) scale(1,0.82)" text-anchor="middle" font-size="6.6" fill="#222" stroke="#222" stroke-width="0.06">400</text><line x1="433.0" y1="128.2" x2="433.0" y2="130.79999999999998" stroke="#111" stroke-width="0.8"/><text transform="translate(433.8,139.8) scale(1,0.82)" text-anchor="middle" font-size="6.6" fill="#222" stroke="#222" stroke-width="0.06">600</text><line x1="451.2" y1="128.2" x2="451.2" y2="130.79999999999998" stroke="#111" stroke-width="0.8"/><text transform="translate(452.0,139.8) scale(1,0.82)" text-anchor="middle" font-size="6.6" fill="#222" stroke="#222" stroke-width="0.06">800</text><line x1="469.4" y1="128.2" x2="469.4" y2="130.79999999999998" stroke="#111" stroke-width="0.8"/><text transform="translate(470.2,139.8) scale(1,0.82)" text-anchor="middle" font-size="6.6" fill="#222" stroke="#222" stroke-width="0.06">1000</text><line x1="487.6" y1="128.2" x2="487.6" y2="130.79999999999998" stroke="#111" stroke-width="0.8"/><text transform="translate(488.4,139.8) scale(1,0.82)" text-anchor="middle" font-size="6.6" fill="#222" stroke="#222" stroke-width="0.06">1200</text><line x1="505.8" y1="128.2" x2="505.8" y2="130.79999999999998" stroke="#111" stroke-width="0.8"/><text transform="translate(506.6,139.8) scale(1,0.82)" text-anchor="middle" font-size="6.6" fill="#222" stroke="#222" stroke-width="0.06">1400</text><text x="482" y="49.5" font-size="5.4" fill="#d84040" font-family="Liberation Serif, serif">y<tspan font-size="3.4" dy="0.8">11</tspan></text><text x="430.5" y="49.5" font-size="5.4" fill="#d84040" font-family="Liberation Serif, serif">y<tspan font-size="3.4" dy="0.8">10(2+)</tspan></text><text x="463.5" y="78.6" font-size="5.4" fill="#d84040" font-family="Liberation Serif, serif">y<tspan font-size="3.4" dy="0.8">8</tspan></text><text x="450.2" y="90" font-size="5.4" fill="#d84040" font-family="Liberation Serif, serif">y<tspan font-size="3.4" dy="0.8">7</tspan></text><text x="470.2" y="100.5" font-size="5.4" fill="#d84040" font-family="Liberation Serif, serif">y<tspan font-size="3.4" dy="0.8">9</tspan></text><text x="421.5" y="100.5" font-size="5.4" fill="#d84040" font-family="Liberation Serif, serif">y<tspan font-size="3.4" dy="0.8">4</tspan></text><text x="431" y="102.8" font-size="5.4" fill="#d84040" font-family="Liberation Serif, serif">y<tspan font-size="3.4" dy="0.8">5</tspan></text><text x="440.5" y="113.2" font-size="5.4" fill="#d84040" font-family="Liberation Serif, serif">y<tspan font-size="3.4" dy="0.8">6</tspan></text><text x="394.4" y="116.5" font-size="5.4" fill="#d84040" font-family="Liberation Serif, serif">y<tspan font-size="3.4" dy="0.8">2</tspan></text><text x="408.3" y="120.6" font-size="5.4" fill="#d84040" font-family="Liberation Serif, serif">y<tspan font-size="3.4" dy="0.8">3</tspan></text><text x="410.2" y="108.4" font-size="5.4" fill="#d84040" font-family="Liberation Serif, serif">y<tspan font-size="3.4" dy="0.8">9(2+)-H2O</tspan></text><text x="411.7" y="114.2" font-size="5.4" fill="#d84040" font-family="Liberation Serif, serif">y<tspan font-size="3.4" dy="0.8">9(2+)</tspan></text><text x="391.5" y="122.5" font-size="5.4" fill="#4a62b0" font-family="Liberation Serif, serif">b<tspan font-size="3.4" dy="0.8">2(2+)</tspan></text><text x="403.5" y="121.5" font-size="5.4" fill="#4a62b0" font-family="Liberation Serif, serif">b<tspan font-size="3.4" dy="0.8">3</tspan></text><text x="409.5" y="124.2" font-size="5.4" fill="#4a62b0" font-family="Liberation Serif, serif">b<tspan font-size="3.4" dy="0.8">4</tspan></text><text x="425.5" y="122.6" font-size="5.4" fill="#4a62b0" font-family="Liberation Serif, serif">b<tspan font-size="3.4" dy="0.8">5</tspan></text><text x="436" y="122.6" font-size="5.4" fill="#4a62b0" font-family="Liberation Serif, serif">b<tspan font-size="3.4" dy="0.8">6</tspan></text><text x="443" y="124" font-size="5.4" fill="#4a62b0" font-family="Liberation Serif, serif">b<tspan font-size="3.4" dy="0.8">7</tspan></text><text x="452" y="120.8" font-size="5.4" fill="#4a62b0" font-family="Liberation Serif, serif">b<tspan font-size="3.4" dy="0.8">8</tspan></text><text x="467" y="121.8" font-size="5.4" fill="#4a62b0" font-family="Liberation Serif, serif">b<tspan font-size="3.4" dy="0.8">9</tspan></text><text x="474" y="122.8" font-size="5.4" fill="#4a62b0" font-family="Liberation Serif, serif">b<tspan font-size="3.4" dy="0.8">10</tspan></text><text x="482" y="115.6" font-size="5.4" fill="#4a62b0" font-family="Liberation Serif, serif">b<tspan font-size="3.4" dy="0.8">11</tspan></text><text x="482" y="122.6" font-size="5.4" fill="#4a62b0" font-family="Liberation Serif, serif">b<tspan font-size="3.4" dy="0.8">11-H2O</tspan></text><text transform="translate(357.4,85.7) rotate(-90)" text-anchor="middle" font-size="8.2" fill="#222" stroke="#222" stroke-width="0.16" textLength="34" lengthAdjust="spacingAndGlyphs">Intensity (%)</text><text x="412.5" y="150.8" font-size="8" fill="#222" stroke="#222" textLength="62.7" lengthAdjust="spacingAndGlyphs" stroke-width="0.22">Mass/charge ratio (m/z)</text><text x="174.6" y="178.0" font-size="11.2" fill="#000" font-weight="bold" stroke="#000" stroke-width="0.3">D</text><rect x="232.30" y="191.1" width="11.3" height="70.6" fill="#A3002B"/><rect x="302.20" y="203.8" width="11.3" height="57.9" fill="#A3002B"/><line x1="203.0" y1="186.4" x2="203.0" y2="264.5" stroke="#333" stroke-width="1.6"/><line x1="202.3" y1="261.7" x2="321.5" y2="261.7" stroke="#333" stroke-width="1.6"/><line x1="200.0" y1="261.7" x2="203.0" y2="261.7" stroke="#333" stroke-width="0.9"/><text x="197.4" y="264.0" font-size="6.5" fill="#333" stroke="#333" stroke-width="0.14" text-anchor="end">0.0</text><line x1="200.0" y1="249.3" x2="203.0" y2="249.3" stroke="#333" stroke-width="0.9"/><text x="197.4" y="251.6" font-size="6.5" fill="#333" stroke="#333" stroke-width="0.14" text-anchor="end">0.5</text><line x1="200.0" y1="236.9" x2="203.0" y2="236.9" stroke="#333" stroke-width="0.9"/><text x="197.4" y="239.2" font-size="6.5" fill="#333" stroke="#333" stroke-width="0.14" text-anchor="end">1.0</text><line x1="200.0" y1="224.6" x2="203.0" y2="224.6" stroke="#333" stroke-width="0.9"/><text x="197.4" y="226.9" font-size="6.5" fill="#333" stroke="#333" stroke-width="0.14" text-anchor="end">1.5</text><line x1="200.0" y1="212.2" x2="203.0" y2="212.2" stroke="#333" stroke-width="0.9"/><text x="197.4" y="214.5" font-size="6.5" fill="#333" stroke="#333" stroke-width="0.14" text-anchor="end">2.0</text><line x1="200.0" y1="199.8" x2="203.0" y2="199.8" stroke="#333" stroke-width="0.9"/><text x="197.4" y="202.1" font-size="6.5" fill="#333" stroke="#333" stroke-width="0.14" text-anchor="end">2.5</text><line x1="200.0" y1="187.4" x2="203.0" y2="187.4" stroke="#333" stroke-width="0.9"/><text x="197.4" y="189.7" font-size="6.5" fill="#333" stroke="#333" stroke-width="0.14" text-anchor="end">3.0</text><line x1="226.3" y1="261.7" x2="226.3" y2="264.5" stroke="#333" stroke-width="0.9"/><line x1="249.6" y1="261.7" x2="249.6" y2="264.5" stroke="#333" stroke-width="0.9"/><line x1="272.9" y1="261.7" x2="272.9" y2="264.5" stroke="#333" stroke-width="0.9"/><line x1="296.2" y1="261.7" x2="296.2" y2="264.5" stroke="#333" stroke-width="0.9"/><line x1="319.5" y1="261.7" x2="319.5" y2="264.5" stroke="#333" stroke-width="0.9"/><text x="214.7" y="273.3" font-size="6" fill="#222" stroke="#222" stroke-width="0.14" text-anchor="middle" textLength="19.5" lengthAdjust="spacingAndGlyphs">Human</text><text x="238.0" y="273.3" font-size="6" fill="#222" stroke="#222" stroke-width="0.14" text-anchor="middle" textLength="8.8" lengthAdjust="spacingAndGlyphs">P.f.</text><text x="261.2" y="273.3" font-size="6" fill="#222" stroke="#222" stroke-width="0.14" text-anchor="middle" textLength="19.5" lengthAdjust="spacingAndGlyphs">Control</text><text x="284.6" y="273.3" font-size="6" fill="#222" stroke="#222" stroke-width="0.14" text-anchor="middle" textLength="19.3" lengthAdjust="spacingAndGlyphs">Human</text><text x="307.9" y="273.3" font-size="6" fill="#222" stroke="#222" stroke-width="0.14" text-anchor="middle" textLength="8.8" lengthAdjust="spacingAndGlyphs">P.f.</text><line x1="204.5" y1="276" x2="247.5" y2="276" stroke="#222" stroke-width="0.9"/><line x1="252.0" y1="276" x2="317.5" y2="276" stroke="#222" stroke-width="0.9"/><text x="226.3" y="283.0" font-size="6" fill="#222" stroke="#222" stroke-width="0.14" text-anchor="middle" textLength="23.5" lengthAdjust="spacingAndGlyphs">Histones</text><text x="284.7" y="283.0" font-size="6" fill="#222" stroke="#222" stroke-width="0.14" text-anchor="middle" textLength="49.5" lengthAdjust="spacingAndGlyphs">Serum + Histones</text><text transform="translate(181.6,223.0) rotate(-90)" text-anchor="middle" font-size="8.3" fill="#222" stroke="#222" stroke-width="0.16" textLength="43" lengthAdjust="spacingAndGlyphs">Intensity (x10<tspan font-size="5.15" dy="-2.9">8</tspan><tspan dy="2.9">)</tspan></text><text x="350.8" y="178.0" font-size="11.2" fill="#000" font-weight="bold" stroke="#000" stroke-width="0.3">E</text><rect x="385.20" y="218.9" width="11.3" height="42.8" fill="#2E4D7F"/><rect x="455.10" y="232.5" width="11.3" height="29.2" fill="#2E4D7F"/><line x1="379.2" y1="186.4" x2="379.2" y2="264.5" stroke="#333" stroke-width="1.6"/><line x1="378.5" y1="261.7" x2="497.7" y2="261.7" stroke="#333" stroke-width="1.6"/><line x1="376.2" y1="261.7" x2="379.2" y2="261.7" stroke="#333" stroke-width="0.9"/><text x="373.59999999999997" y="264.0" font-size="6.5" fill="#333" stroke="#333" stroke-width="0.14" text-anchor="end">0.0</text><line x1="376.2" y1="249.3" x2="379.2" y2="249.3" stroke="#333" stroke-width="0.9"/><text x="373.59999999999997" y="251.6" font-size="6.5" fill="#333" stroke="#333" stroke-width="0.14" text-anchor="end">0.5</text><line x1="376.2" y1="236.9" x2="379.2" y2="236.9" stroke="#333" stroke-width="0.9"/><text x="373.59999999999997" y="239.2" font-size="6.5" fill="#333" stroke="#333" stroke-width="0.14" text-anchor="end">1.0</text><line x1="376.2" y1="224.6" x2="379.2" y2="224.6" stroke="#333" stroke-width="0.9"/><text x="373.59999999999997" y="226.9" font-size="6.5" fill="#333" stroke="#333" stroke-width="0.14" text-anchor="end">1.5</text><line x1="376.2" y1="212.2" x2="379.2" y2="212.2" stroke="#333" stroke-width="0.9"/><text x="373.59999999999997" y="214.5" font-size="6.5" fill="#333" stroke="#333" stroke-width="0.14" text-anchor="end">2.0</text><line x1="376.2" y1="199.8" x2="379.2" y2="199.8" stroke="#333" stroke-width="0.9"/><text x="373.59999999999997" y="202.1" font-size="6.5" fill="#333" stroke="#333" stroke-width="0.14" text-anchor="end">2.5</text><line x1="376.2" y1="187.4" x2="379.2" y2="187.4" stroke="#333" stroke-width="0.9"/><text x="373.59999999999997" y="189.7" font-size="6.5" fill="#333" stroke="#333" stroke-width="0.14" text-anchor="end">3.0</text><line x1="402.5" y1="261.7" x2="402.5" y2="264.5" stroke="#333" stroke-width="0.9"/><line x1="425.8" y1="261.7" x2="425.8" y2="264.5" stroke="#333" stroke-width="0.9"/><line x1="449.1" y1="261.7" x2="449.1" y2="264.5" stroke="#333" stroke-width="0.9"/><line x1="472.4" y1="261.7" x2="472.4" y2="264.5" stroke="#333" stroke-width="0.9"/><line x1="495.7" y1="261.7" x2="495.7" y2="264.5" stroke="#333" stroke-width="0.9"/><text x="390.8" y="273.3" font-size="6" fill="#222" stroke="#222" stroke-width="0.14" text-anchor="middle" textLength="19.5" lengthAdjust="spacingAndGlyphs">Human</text><text x="414.1" y="273.3" font-size="6" fill="#222" stroke="#222" stroke-width="0.14" text-anchor="middle" textLength="8.8" lengthAdjust="spacingAndGlyphs">P.f.</text><text x="437.4" y="273.3" font-size="6" fill="#222" stroke="#222" stroke-width="0.14" text-anchor="middle" textLength="19.5" lengthAdjust="spacingAndGlyphs">Control</text><text x="460.8" y="273.3" font-size="6" fill="#222" stroke="#222" stroke-width="0.14" text-anchor="middle" textLength="19.3" lengthAdjust="spacingAndGlyphs">Human</text><text x="484.0" y="273.3" font-size="6" fill="#222" stroke="#222" stroke-width="0.14" text-anchor="middle" textLength="8.8" lengthAdjust="spacingAndGlyphs">P.f.</text><line x1="380.7" y1="276" x2="423.7" y2="276" stroke="#222" stroke-width="0.9"/><line x1="428.2" y1="276" x2="493.7" y2="276" stroke="#222" stroke-width="0.9"/><text x="402.5" y="283.0" font-size="6" fill="#222" stroke="#222" stroke-width="0.14" text-anchor="middle" textLength="23.5" lengthAdjust="spacingAndGlyphs">Histones</text><text x="460.9" y="283.0" font-size="6" fill="#222" stroke="#222" stroke-width="0.14" text-anchor="middle" textLength="49.5" lengthAdjust="spacingAndGlyphs">Serum + Histones</text><text transform="translate(357.8,223.0) rotate(-90)" text-anchor="middle" font-size="8.3" fill="#222" stroke="#222" stroke-width="0.16" textLength="43" lengthAdjust="spacingAndGlyphs">Intensity (x10<tspan font-size="5.15" dy="-2.9">8</tspan><tspan dy="2.9">)</tspan></text><text x="175.0" y="309.9" font-size="11.2" fill="#000" font-weight="bold" stroke="#000" stroke-width="0.3">F</text><rect x="245.3" y="307.3" width="6.8" height="5.6" fill="#c20a78"/><text x="254.3" y="311.9" font-size="5.2" fill="#333" stroke="#333" stroke-width="0.14" textLength="11" lengthAdjust="spacingAndGlyphs">H2A</text><rect x="277.8" y="307.3" width="6.6" height="5.6" fill="#5aa6e0"/><text x="287.2" y="311.9" font-size="5.2" fill="#333" stroke="#333" stroke-width="0.14" textLength="6.6" lengthAdjust="spacingAndGlyphs">H4</text><rect x="205.10" y="346.6" width="2.0" height="59.0" fill="#c20a78"/><rect x="205.10" y="335.8" width="2.0" height="6.8" fill="#c20a78"/><rect x="217.40" y="385.0" width="2.0" height="20.6" fill="#c20a78"/><rect x="229.70" y="346.6" width="2.0" height="59.0" fill="#c20a78"/><rect x="229.70" y="324.0" width="2.0" height="18.6" fill="#c20a78"/><rect x="234.10" y="346.6" width="2.0" height="59.0" fill="#5aa6e0"/><rect x="234.10" y="339.6" width="2.0" height="3.0" fill="#5aa6e0"/><rect x="242.00" y="390.9" width="2.0" height="14.8" fill="#c20a78"/><rect x="246.40" y="346.6" width="2.0" height="59.0" fill="#5aa6e0"/><rect x="246.40" y="329.1" width="2.0" height="13.5" fill="#5aa6e0"/><rect x="254.30" y="383.2" width="2.0" height="22.4" fill="#c20a78"/><rect x="258.70" y="369.0" width="2.0" height="36.6" fill="#5aa6e0"/><rect x="266.60" y="374.3" width="2.0" height="31.3" fill="#c20a78"/><rect x="271.00" y="364.9" width="2.0" height="40.7" fill="#5aa6e0"/><rect x="278.90" y="387.3" width="2.0" height="18.3" fill="#c20a78"/><rect x="291.20" y="346.6" width="2.0" height="59.0" fill="#c20a78"/><rect x="291.20" y="341.1" width="2.0" height="1.5" fill="#c20a78"/><rect x="295.60" y="346.6" width="2.0" height="59.0" fill="#5aa6e0"/><rect x="295.60" y="340.3" width="2.0" height="2.3" fill="#5aa6e0"/><rect x="303.50" y="367.8" width="2.0" height="37.8" fill="#c20a78"/><rect x="307.90" y="346.6" width="2.0" height="59.0" fill="#5aa6e0"/><rect x="307.90" y="341.8" width="2.0" height="0.8" fill="#5aa6e0"/><rect x="320.20" y="347.2" width="2.0" height="58.4" fill="#5aa6e0"/><line x1="203.2" y1="315.0" x2="203.2" y2="343.0" stroke="#333" stroke-width="1.6"/><line x1="203.2" y1="346.4" x2="203.2" y2="408.20000000000005" stroke="#333" stroke-width="1.6"/><line x1="202.5" y1="405.6" x2="324" y2="405.6" stroke="#333" stroke-width="1.6"/><line x1="201.29999999999998" y1="342.5" x2="204.29999999999998" y2="342.5" stroke="#333" stroke-width="0.9"/><line x1="200.2" y1="317.8" x2="203.2" y2="317.8" stroke="#333" stroke-width="0.9"/><text x="197.6" y="320.1" font-size="6.5" fill="#333" stroke="#333" stroke-width="0.14" text-anchor="end">100</text><line x1="200.2" y1="331.2" x2="203.2" y2="331.2" stroke="#333" stroke-width="0.9"/><text x="197.6" y="333.5" font-size="6.5" fill="#333" stroke="#333" stroke-width="0.14" text-anchor="end">50</text><line x1="200.2" y1="346.6" x2="203.2" y2="346.6" stroke="#333" stroke-width="0.9"/><text x="197.6" y="348.9" font-size="6.5" fill="#333" stroke="#333" stroke-width="0.14" text-anchor="end">10</text><line x1="200.2" y1="358.4" x2="203.2" y2="358.4" stroke="#333" stroke-width="0.9"/><text x="197.6" y="360.7" font-size="6.5" fill="#333" stroke="#333" stroke-width="0.14" text-anchor="end">8</text><line x1="200.2" y1="370.2" x2="203.2" y2="370.2" stroke="#333" stroke-width="0.9"/><text x="197.6" y="372.5" font-size="6.5" fill="#333" stroke="#333" stroke-width="0.14" text-anchor="end">6</text><line x1="200.2" y1="382.0" x2="203.2" y2="382.0" stroke="#333" stroke-width="0.9"/><text x="197.6" y="384.3" font-size="6.5" fill="#333" stroke="#333" stroke-width="0.14" text-anchor="end">4</text><line x1="200.2" y1="393.8" x2="203.2" y2="393.8" stroke="#333" stroke-width="0.9"/><text x="197.6" y="396.1" font-size="6.5" fill="#333" stroke="#333" stroke-width="0.14" text-anchor="end">2</text><line x1="200.2" y1="405.6" x2="203.2" y2="405.6" stroke="#333" stroke-width="0.9"/><text x="197.6" y="407.9" font-size="6.5" fill="#333" stroke="#333" stroke-width="0.14" text-anchor="end">0</text><line x1="208.4" y1="405.6" x2="208.4" y2="408.20000000000005" stroke="#333" stroke-width="0.9"/><text transform="translate(211.6,415.6) rotate(-45)" text-anchor="end" font-size="6.3" fill="#333" stroke="#333" stroke-width="0.12">2867</text><line x1="220.7" y1="405.6" x2="220.7" y2="408.20000000000005" stroke="#333" stroke-width="0.9"/><text transform="translate(223.9,415.6) rotate(-45)" text-anchor="end" font-size="6.3" fill="#333" stroke="#333" stroke-width="0.12">2896</text><line x1="233.0" y1="405.6" x2="233.0" y2="408.20000000000005" stroke="#333" stroke-width="0.9"/><text transform="translate(236.2,415.6) rotate(-45)" text-anchor="end" font-size="6.3" fill="#333" stroke="#333" stroke-width="0.12">2905</text><line x1="245.3" y1="405.6" x2="245.3" y2="408.20000000000005" stroke="#333" stroke-width="0.9"/><text transform="translate(248.5,415.6) rotate(-45)" text-anchor="end" font-size="6.3" fill="#333" stroke="#333" stroke-width="0.12">2851</text><line x1="257.6" y1="405.6" x2="257.6" y2="408.20000000000005" stroke="#333" stroke-width="0.9"/><text transform="translate(260.8,415.6) rotate(-45)" text-anchor="end" font-size="6.3" fill="#333" stroke="#333" stroke-width="0.12">2880</text><line x1="269.9" y1="405.6" x2="269.9" y2="408.20000000000005" stroke="#333" stroke-width="0.9"/><text transform="translate(273.1,415.6) rotate(-45)" text-anchor="end" font-size="6.3" fill="#333" stroke="#333" stroke-width="0.12">2877</text><line x1="282.2" y1="405.6" x2="282.2" y2="408.20000000000005" stroke="#333" stroke-width="0.9"/><text transform="translate(285.4,415.6) rotate(-45)" text-anchor="end" font-size="6.3" fill="#333" stroke="#333" stroke-width="0.12">2871</text><line x1="294.5" y1="405.6" x2="294.5" y2="408.20000000000005" stroke="#333" stroke-width="0.9"/><text transform="translate(297.7,415.6) rotate(-45)" text-anchor="end" font-size="6.3" fill="#333" stroke="#333" stroke-width="0.12">2853</text><line x1="306.8" y1="405.6" x2="306.8" y2="408.20000000000005" stroke="#333" stroke-width="0.9"/><text transform="translate(310.0,415.6) rotate(-45)" text-anchor="end" font-size="6.3" fill="#333" stroke="#333" stroke-width="0.12">2861</text><line x1="319.1" y1="405.6" x2="319.1" y2="408.20000000000005" stroke="#333" stroke-width="0.9"/><text transform="translate(322.3,415.6) rotate(-45)" text-anchor="end" font-size="6.3" fill="#333" stroke="#333" stroke-width="0.12">2885</text><text transform="translate(180.4,360.8) rotate(-90)" text-anchor="middle" font-size="8.3" fill="#222" stroke="#222" stroke-width="0.16" textLength="43.9" lengthAdjust="spacingAndGlyphs">Intensity (x10<tspan font-size="5.15" dy="-2.9">5</tspan><tspan dy="2.9">)</tspan></text><text x="349.9" y="310.5" font-size="11.2" fill="#000" font-weight="bold" stroke="#000" stroke-width="0.3">G</text><rect x="400.4" y="307.3" width="7.4" height="5.5" fill="#2E4D7F"/><text x="410.4" y="312.3" font-size="5.1" fill="#333" stroke="#333" stroke-width="0.14" textLength="16.4" lengthAdjust="spacingAndGlyphs">Human</text><rect x="438.5" y="307.3" width="7.4" height="5.5" fill="#A3002B"/><text x="448.2" y="312.3" font-size="5.1" fill="#333" stroke="#333" stroke-width="0.14" font-style="italic" textLength="29.1" lengthAdjust="spacingAndGlyphs">P falciparum</text><rect x="382.25" y="320.6" width="3.9" height="85.0" fill="#2E4D7F"/><rect x="382.25" y="342.4" width="3.9" height="63.2" fill="#A3002B"/><rect x="392.90" y="320.6" width="3.9" height="85.0" fill="#2E4D7F"/><rect x="392.90" y="404.0" width="3.9" height="1.6" fill="#A3002B"/><rect x="403.55" y="320.6" width="3.9" height="85.0" fill="#2E4D7F"/><rect x="403.55" y="353.8" width="3.9" height="51.8" fill="#A3002B"/><rect x="414.20" y="320.6" width="3.9" height="85.0" fill="#2E4D7F"/><rect x="414.20" y="329.8" width="3.9" height="75.8" fill="#A3002B"/><rect x="424.85" y="320.6" width="3.9" height="85.0" fill="#2E4D7F"/><rect x="424.85" y="379.0" width="3.9" height="26.6" fill="#A3002B"/><rect x="435.50" y="320.6" width="3.9" height="85.0" fill="#2E4D7F"/><rect x="435.50" y="373.2" width="3.9" height="32.4" fill="#A3002B"/><rect x="446.15" y="320.6" width="3.9" height="85.0" fill="#2E4D7F"/><rect x="446.15" y="389.6" width="3.9" height="16.0" fill="#A3002B"/><rect x="456.80" y="320.6" width="3.9" height="85.0" fill="#2E4D7F"/><rect x="456.80" y="383.3" width="3.9" height="22.3" fill="#A3002B"/><rect x="467.45" y="320.6" width="3.9" height="85.0" fill="#2E4D7F"/><rect x="467.45" y="347.5" width="3.9" height="58.1" fill="#A3002B"/><rect x="478.10" y="320.6" width="3.9" height="85.0" fill="#2E4D7F"/><rect x="478.10" y="329.3" width="3.9" height="76.3" fill="#A3002B"/><rect x="488.75" y="320.6" width="3.9" height="85.0" fill="#2E4D7F"/><rect x="488.75" y="363.1" width="3.9" height="42.5" fill="#A3002B"/><line x1="378.2" y1="319.6" x2="378.2" y2="408.20000000000005" stroke="#333" stroke-width="1.6"/><line x1="377.5" y1="405.6" x2="498.7" y2="405.6" stroke="#333" stroke-width="1.6"/><line x1="375.2" y1="320.6" x2="378.2" y2="320.6" stroke="#333" stroke-width="0.9"/><text x="372.59999999999997" y="322.9" font-size="6.5" fill="#333" stroke="#333" stroke-width="0.14" text-anchor="end">1.0</text><line x1="375.2" y1="363.1" x2="378.2" y2="363.1" stroke="#333" stroke-width="0.9"/><text x="372.59999999999997" y="365.4" font-size="6.5" fill="#333" stroke="#333" stroke-width="0.14" text-anchor="end">0.5</text><line x1="375.2" y1="405.6" x2="378.2" y2="405.6" stroke="#333" stroke-width="0.9"/><text x="372.59999999999997" y="407.9" font-size="6.5" fill="#333" stroke="#333" stroke-width="0.14" text-anchor="end">0.0</text><line x1="389.5" y1="405.6" x2="389.5" y2="408.0" stroke="#333" stroke-width="0.9"/><text transform="translate(387.0,413.4) rotate(-45)" text-anchor="end" font-size="6.3" fill="#333" stroke="#333" stroke-width="0.12">2867</text><line x1="400.2" y1="405.6" x2="400.2" y2="408.0" stroke="#333" stroke-width="0.9"/><text transform="translate(397.6,413.4) rotate(-45)" text-anchor="end" font-size="6.3" fill="#333" stroke="#333" stroke-width="0.12">2896</text><line x1="410.8" y1="405.6" x2="410.8" y2="408.0" stroke="#333" stroke-width="0.9"/><text transform="translate(408.3,413.4) rotate(-45)" text-anchor="end" font-size="6.3" fill="#333" stroke="#333" stroke-width="0.12">2905</text><line x1="421.5" y1="405.6" x2="421.5" y2="408.0" stroke="#333" stroke-width="0.9"/><text transform="translate(418.9,413.4) rotate(-45)" text-anchor="end" font-size="6.3" fill="#333" stroke="#333" stroke-width="0.12">2851</text><line x1="432.1" y1="405.6" x2="432.1" y2="408.0" stroke="#333" stroke-width="0.9"/><text transform="translate(429.6,413.4) rotate(-45)" text-anchor="end" font-size="6.3" fill="#333" stroke="#333" stroke-width="0.12">2880</text><line x1="442.8" y1="405.6" x2="442.8" y2="408.0" stroke="#333" stroke-width="0.9"/><text transform="translate(440.2,413.4) rotate(-45)" text-anchor="end" font-size="6.3" fill="#333" stroke="#333" stroke-width="0.12">2877</text><line x1="453.4" y1="405.6" x2="453.4" y2="408.0" stroke="#333" stroke-width="0.9"/><text transform="translate(450.9,413.4) rotate(-45)" text-anchor="end" font-size="6.3" fill="#333" stroke="#333" stroke-width="0.12">2871</text><line x1="464.1" y1="405.6" x2="464.1" y2="408.0" stroke="#333" stroke-width="0.9"/><text transform="translate(461.6,413.4) rotate(-45)" text-anchor="end" font-size="6.3" fill="#333" stroke="#333" stroke-width="0.12">2853</text><line x1="474.8" y1="405.6" x2="474.8" y2="408.0" stroke="#333" stroke-width="0.9"/><text transform="translate(472.2,413.4) rotate(-45)" text-anchor="end" font-size="6.3" fill="#333" stroke="#333" stroke-width="0.12">2861</text><line x1="485.4" y1="405.6" x2="485.4" y2="408.0" stroke="#333" stroke-width="0.9"/><text transform="translate(482.9,413.4) rotate(-45)" text-anchor="end" font-size="6.3" fill="#333" stroke="#333" stroke-width="0.12">2885</text><line x1="496.1" y1="405.6" x2="496.1" y2="408.0" stroke="#333" stroke-width="0.9"/><text transform="translate(493.5,413.4) rotate(-45)" text-anchor="end" font-size="6.3" fill="#333" stroke="#333" stroke-width="0.12">Average</text><text transform="translate(358.8,361.6) rotate(-90)" text-anchor="middle" font-size="8.5" fill="#222" stroke="#222" stroke-width="0.16" textLength="28.5" lengthAdjust="spacingAndGlyphs">Proportion</text>
<rect x="0" y="0" width="1" height="436" fill="#000"/>
<rect x="0" y="0" width="520" height="1" fill="#000"/>
<rect x="518.6" y="0" width="1.4" height="436" fill="#000"/>
<rect x="0" y="434.8" width="520" height="1.2" fill="#000"/>
</svg>
</body></html>
